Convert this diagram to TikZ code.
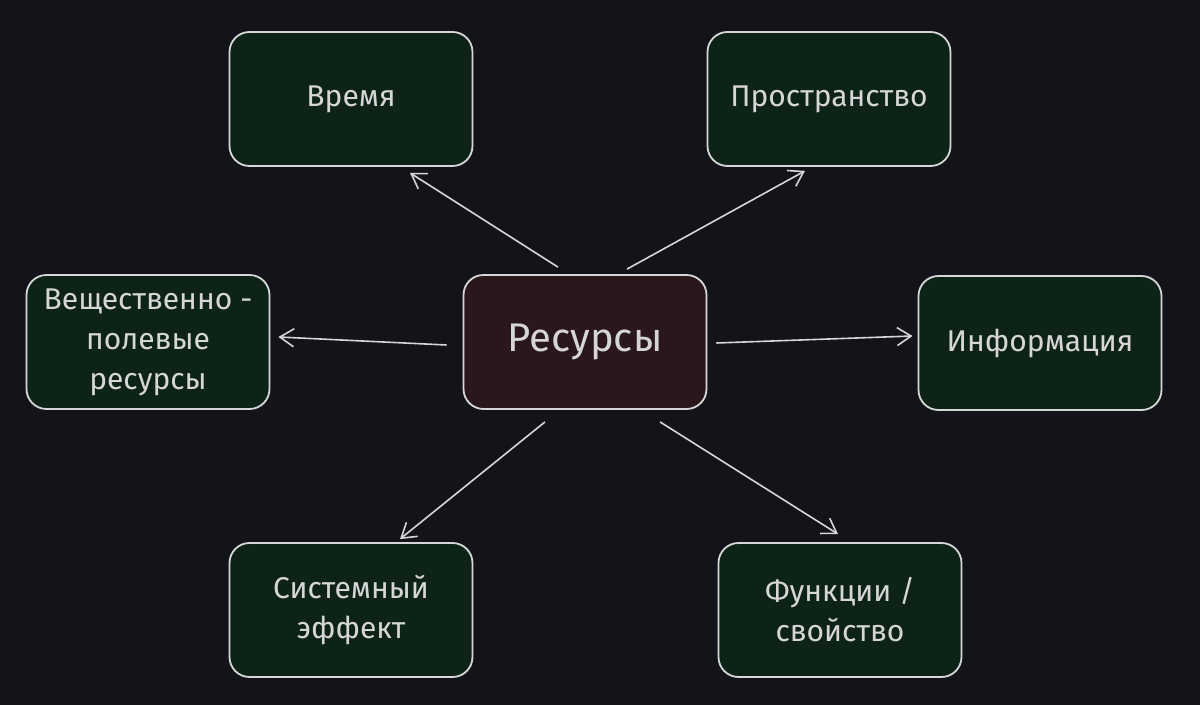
\documentclass[tikz,border=0pt]{standalone}
\usepackage{fontspec}
\setmainfont{Fira Sans}
\usepackage{tikz}
\usetikzlibrary{arrows.meta}

\definecolor{bgdark}{HTML}{121419}
\definecolor{boxgreen}{HTML}{0E2318}
\definecolor{boxred}{HTML}{2A171B}
\definecolor{inkline}{HTML}{D6D6D6}

\begin{document}
\begin{tikzpicture}[x=0.5pt,y=-0.5pt]
    \tikzset{rounded/.style={draw=inkline,line width=0.9pt,rectangle,rounded corners=10pt,
        minimum width=121.5pt,minimum height=67pt,inner sep=0pt,align=center,
        text=inkline,font=\fontsize{15}{20}\selectfont},
      res/.style={rounded,fill=boxgreen},
      hub/.style={rounded,fill=boxred,font=\fontsize{20}{24}\selectfont},
      link/.style={color=inkline,line width=0.8pt,-{Straight Barb[length=7pt,width=9pt]}}}
    \fill[bgdark] (0,0) rectangle (1200,705);
    \useasboundingbox (0,0) rectangle (1200,705);
    \node[hub] (resursy) at (585,342) {Ресурсы};
    \node[res] (vremya) at (351,99) {Время};
    \node[res] (prostr) at (829,99) {Пространство};
    \node[res] (veshch) at (148,342) {Вещественно -\\полевые\\ресурсы};
    \node[res] (inform) at (1040,343) {Информация};
    \node[res] (sistem) at (351,610) {Системный\\эффект};
    \node[res] (funkc) at (840,610) {Функции /\\свойство};
    \path
    ([shift={(-27,-7)}]resursy.north) edge [link] ([shift={(59,6)}]vremya.south)
    ([shift={(42,-5)}]resursy.north) edge [link] ([shift={(-24,4)}]prostr.south)
    ([shift={(-16,3)}]resursy.west) edge [link] ([shift={(8,-5)}]veshch.east)
    ([shift={(9,1)}]resursy.east) edge [link] ([shift={(-5,-7)}]inform.west)
    ([shift={(-40,12)}]resursy.south) edge [link] ([shift={(49,-3)}]sistem.north)
    ([shift={(75,12)}]resursy.south) edge [link] ([shift={(-2,-8)}]funkc.north)
    ;
\end{tikzpicture}
\end{document}
